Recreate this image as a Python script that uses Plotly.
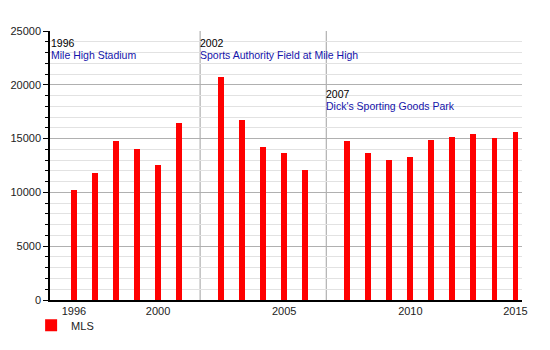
import plotly.graph_objects as go

years = [1996, 1997, 1998, 1999, 2000, 2001, 2002, 2003, 2004, 2005, 2006,
         2007, 2008, 2009, 2010, 2011, 2012, 2013, 2014, 2015]
attendance = [10213, 11835, 14812, 14029, 12580, 16481, 20689, 16771, 14203,
              13708, 12083, 14749, 13659, 12976, 13329, 14838, 15175, 15440,
              15082, 15657]
stadium_years = [1996, 2002, 2007]
stadium_names = ["Mile High Stadium", "Sports Authority Field at Mile High",
                 "Dick's Sporting Goods Park"]
tick_years = [1996, 2000, 2005, 2010, 2015]
series_name = "MLS"

FONT = "Liberation Sans, Arial, sans-serif"
BLUE = "#1414aa"


def slot(y):
    # one empty slot before each stadium change (after the first)
    return (y - years[0]) + sum(1 for s in stadium_years[1:] if y >= s)


xs = [slot(y) for y in years]

fig = go.Figure()
fig.add_trace(go.Bar(x=xs, y=attendance, width=0.28, name=series_name,
                     marker=dict(color="#ff0000", line=dict(width=0)),
                     showlegend=True))

shapes = []
annotations = []
label_y = [(23850, 22750), (23850, 22750), (19150, 18000)]
for i, (sy, sn) in enumerate(zip(stadium_years, stadium_names)):
    if i == 0:
        xpos = -1.14
        xsh = 0
    else:
        xpos = slot(sy) - 1
        xsh = -1
        shapes.append(dict(type="line", xref="x", yref="y", x0=xpos, x1=xpos,
                           y0=0, y1=25000, line=dict(color="#a0a0a0", width=1),
                           layer="below"))
    annotations.append(dict(x=xpos, y=label_y[i][0], xref="x", yref="y",
                            text=str(sy), showarrow=False, xanchor="left",
                            yanchor="middle", xshift=xsh, borderpad=0,
                            font=dict(family=FONT, size=10.5, color="#000000")))
    annotations.append(dict(x=xpos, y=label_y[i][1], xref="x", yref="y",
                            text=sn, showarrow=False, xanchor="left",
                            yanchor="middle", xshift=xsh, borderpad=0,
                            font=dict(family=FONT, size=10.5, color=BLUE)))

fig.update_layout(
    width=550, height=350,
    margin=dict(l=50, r=28, t=31, b=50, autoexpand=False),
    paper_bgcolor="white", plot_bgcolor="white",
    font=dict(family=FONT, size=11, color="#222222"),
    shapes=shapes, annotations=annotations,
    bargap=0,
    legend=dict(orientation="h", x=-0.04, y=-0.04, xanchor="left",
                yanchor="top", font=dict(family=FONT, size=11, color="#222222"),
                bgcolor="rgba(0,0,0,0)"),
    xaxis=dict(range=[-1.14, 21.31], tickmode="array",
               tickvals=[slot(y) for y in tick_years],
               ticktext=[str(y) for y in tick_years],
               showgrid=False, zeroline=False, showline=True,
               linecolor="#000000", linewidth=1.5, ticks="",
               tickfont=dict(family=FONT, size=11, color="#222222")),
    yaxis=dict(range=[0, 25000], dtick=5000, tick0=0, tickformat="d",
               showgrid=True, gridcolor="#b0b0b0", gridwidth=1,
               zeroline=False, showline=True, linecolor="#000000",
               linewidth=1.5, ticks="outside", ticklen=5, tickcolor="#000000",
               tickwidth=1,
               minor=dict(dtick=1000, showgrid=True, gridcolor="#e2e2e2",
                          ticks="outside", ticklen=3, tickcolor="#000000"),
               tickfont=dict(family=FONT, size=11, color="#222222")),
)

fig.write_html("out.html")
